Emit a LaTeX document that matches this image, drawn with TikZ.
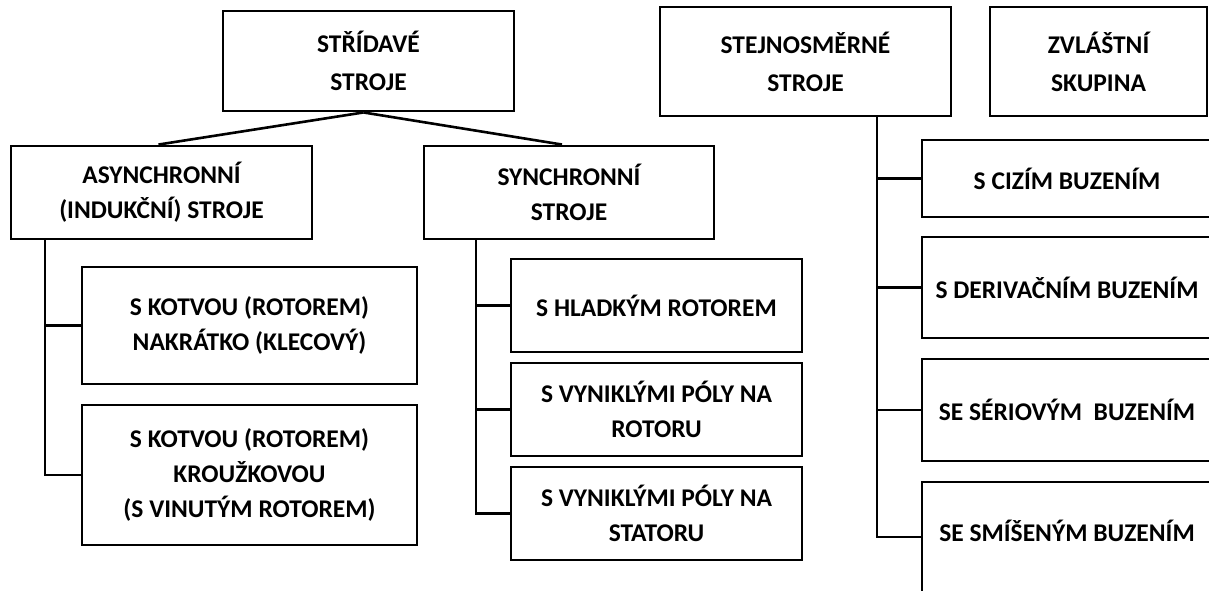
\documentclass[tikz,border=0pt]{standalone}
\usepackage{fontspec}
\setmainfont{Carlito}
\begin{document}
\begin{tikzpicture}[x=1pt,y=-1pt,
  box/.style={draw=black, line width=2.9pt, rectangle, inner sep=0pt, align=center,
    font=\bfseries\fontsize{25.5}{35}\selectfont},
  topbox/.style={box, font=\bfseries\fontsize{25.5}{38}\selectfont},
  lbl/.style={inner sep=0pt, align=center, font=\bfseries\fontsize{25.5}{35}\selectfont},
  conn/.style={draw=black, line width=2.6pt}]
\useasboundingbox (0,0) rectangle (1209,591);
\clip (0,0) rectangle (1209,591);
% top row
\node[topbox, minimum width=291pt, minimum height=100pt] (stridave) at (368.5,61) {STŘÍDAVÉ\\STROJE};
\node[topbox, minimum width=291pt, minimum height=109pt] (stejn) at (805.5,61.5) {STEJNOSMĚRNÉ\\STROJE};
\node[topbox, minimum width=217pt, minimum height=109pt] (zvl) at (1098.5,61.5) {ZVLÁŠTNÍ\\SKUPINA};
% second row
\node[box, minimum width=301pt, minimum height=93pt] (async) at (161.5,192.5) {ASYNCHRONNÍ\\(INDUKČNÍ) STROJE};
\node[box, minimum width=290pt, minimum height=93pt] (sync) at (569,192.5) {SYNCHRONNÍ\\STROJE};
% asynchronous children
\node[box, minimum width=335pt, minimum height=117pt] (kotva1) at (249.5,325.5) {S KOTVOU (ROTOREM)\\NAKRÁTKO (KLECOVÝ)};
\node[box, minimum width=335pt, minimum height=140pt] (kotva2) at (249.5,475) {S KOTVOU (ROTOREM)\\KROUŽKOVOU\\(S VINUTÝM ROTOREM)};
% synchronous children
\node[box, minimum width=291pt, minimum height=93pt] (hlad) at (656.5,305.5) {S HLADKÝM ROTOREM};
\node[box, minimum width=291pt, minimum height=93pt] (vynrot) at (656.5,409.5) {S VYNIKLÝMI PÓLY NA\\ROTORU};
\node[box, minimum width=291pt, minimum height=93pt] (vynstat) at (656.5,513.5) {S VYNIKLÝMI PÓLY NA\\STATORU};
% DC children
\node[box, minimum width=290pt, minimum height=77pt] (cizi) at (1067,178.5) {S CIZÍM BUZENÍM};
\node[box, minimum width=290pt, minimum height=101pt] (deriv) at (1067,287.5) {S DERIVAČNÍM BUZENÍM};
\node[box, minimum width=290pt, minimum height=102pt] (serio) at (1067,410) {SE SÉRIOVÝM~~BUZENÍM};
\node[box, minimum width=290pt, minimum height=138pt] (smis) at (1067,551) {};
\node[lbl] (smislbl) at (1067,531) {SE SMÍŠENÝM BUZENÍM};
% trunk coordinates
\coordinate (atrunk) at (45,0);
\coordinate (strunk) at (476,0);
\coordinate (dtrunk) at (877,0);
\coordinate (smisin) at (922,537);
% connectors
\draw[conn] ([xshift=-5pt]stridave.south) -- ([xshift=-3pt]async.north);
\draw[conn] ([xshift=-5pt]stridave.south) -- ([xshift=-7pt]sync.north);
\draw[conn] (atrunk |- async.south) |- (kotva2.west);
\draw[conn] (atrunk |- kotva1.west) -- (kotva1.west);
\draw[conn] (strunk |- sync.south) |- (vynstat.west);
\draw[conn] (strunk |- hlad.west) -- (hlad.west);
\draw[conn] (strunk |- vynrot.west) -- (vynrot.west);
\draw[conn] (dtrunk |- stejn.south) |- (smisin);
\draw[conn] (dtrunk |- cizi.west) -- (cizi.west);
\draw[conn] (dtrunk |- deriv.west) -- (deriv.west);
\draw[conn] (dtrunk |- serio.west) -- (serio.west);
\end{tikzpicture}
\end{document}
